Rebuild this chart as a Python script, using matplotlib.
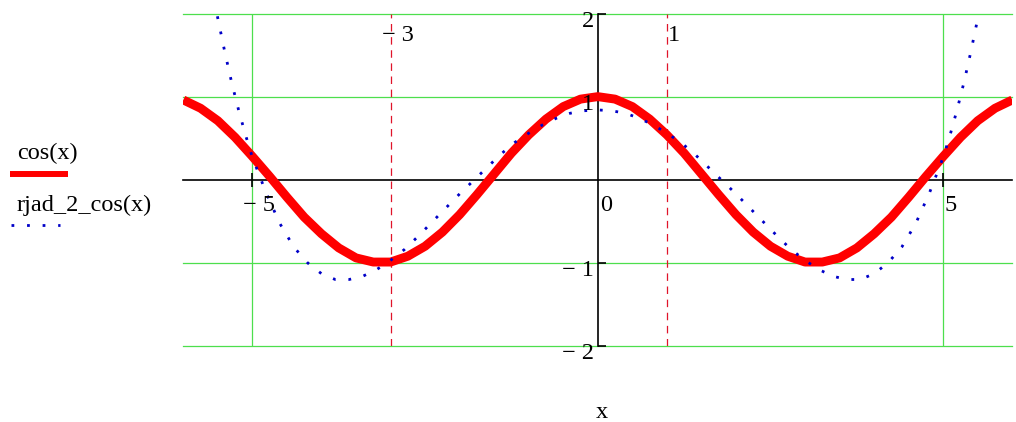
"""
cos(x) against its series approximation rjad_2_cos(x), Mathcad style plot
"""

### Import modules
import numpy as np
import matplotlib
matplotlib.use('Agg')
import matplotlib.pyplot as plt
from matplotlib.lines import Line2D

### Data
x_cos = [-6.0, -5.75, -5.5, -5.25, -5.0, -4.75, -4.5, -4.25, -4.0, -3.75,
         -3.5, -3.25, -3.0, -2.75, -2.5, -2.25, -2.0, -1.75, -1.5, -1.25,
         -1.0, -0.75, -0.5, -0.25, 0.0, 0.25, 0.5, 0.75, 1.0, 1.25, 1.5,
         1.75, 2.0, 2.25, 2.5, 2.75, 3.0, 3.25, 3.5, 3.75, 4.0, 4.25, 4.5,
         4.75, 5.0, 5.25, 5.5, 5.75, 6.0]
y_cos = [0.96, 0.86, 0.71, 0.51, 0.28, 0.04, -0.21, -0.45, -0.65, -0.82,
         -0.94, -0.99, -0.99, -0.92, -0.80, -0.63, -0.42, -0.18, 0.07, 0.32,
         0.54, 0.73, 0.88, 0.97, 1.00, 0.97, 0.88, 0.73, 0.54, 0.32, 0.07,
         -0.18, -0.42, -0.63, -0.80, -0.92, -0.99, -0.99, -0.94, -0.82,
         -0.65, -0.45, -0.21, 0.04, 0.28, 0.51, 0.71, 0.86, 0.96]

x_rjad = [-5.55, -5.5, -5.4, -5.3, -5.2, -5.1, -5.0, -4.8, -4.6, -4.4, -4.2,
          -4.0, -3.8, -3.6, -3.4, -3.2, -3.0, -2.8, -2.6, -2.4, -2.2, -2.0,
          -1.8, -1.6, -1.4, -1.2, -1.0, -0.8, -0.6, -0.4, -0.2, 0.0, 0.2,
          0.4, 0.6, 0.8, 1.0, 1.2, 1.4, 1.6, 1.8, 2.0, 2.2, 2.4, 2.6, 2.8,
          3.0, 3.2, 3.4, 3.6, 3.8, 4.0, 4.2, 4.4, 4.6, 4.8, 5.0, 5.1, 5.2,
          5.3, 5.4, 5.5, 5.55]
y_rjad = [2.15, 1.94, 1.54, 1.17, 0.84, 0.54, 0.27, -0.16, -0.53, -0.81,
          -1.00, -1.13, -1.20, -1.20, -1.16, -1.08, -0.97, -0.84, -0.68,
          -0.51, -0.34, -0.17, -0.01, 0.15, 0.31, 0.45, 0.56, 0.66, 0.74,
          0.80, 0.83, 0.84, 0.83, 0.80, 0.74, 0.66, 0.56, 0.45, 0.31, 0.15,
          -0.01, -0.17, -0.34, -0.51, -0.68, -0.84, -0.97, -1.08, -1.16,
          -1.20, -1.20, -1.13, -1.00, -0.81, -0.53, -0.16, 0.27, 0.54, 0.84,
          1.17, 1.54, 1.94, 2.15]

xticks = [-5, 5]
xticklabels = ['\u2212 5', '5']
yticks = [-2, -1, 1, 2]
yticklabels = ['\u2212 2', '\u2212 1', '1', '2']
markers = [-3, 1]
markerlabels = ['\u2212 3', '1']

### Styles
red = '#ff0000'
blue = '#0000c8'
green = '#4ddf4d'
dashred = '#e0142a'
dotstyle = (0, (1, 4.6))

plt.rcParams['font.family'] = ['Liberation Serif', 'DejaVu Serif']
plt.rcParams['font.size'] = 17.5

W, H = 1016, 422
fig = plt.figure(figsize=(W/100, H/100), dpi=100)
ax = fig.add_axes([183.3/W, 1-346/H, (1012.3-183.3)/W, (346-13.5)/H])
ax.set_xlim(-6, 6)
ax.set_ylim(-2, 2)

### Axes through the origin
for loc in ['top', 'right']:
    ax.spines[loc].set_visible(False)
for loc in ['left', 'bottom']:
    ax.spines[loc].set_position('zero')
    ax.spines[loc].set_linewidth(1.2)
    ax.spines[loc].set_zorder(2)
ax.set_xticks(xticks)
ax.set_yticks(yticks)
ax.tick_params(axis='x', direction='inout', length=10, width=1.2,
               labelbottom=False)
ax.tick_params(axis='y', direction='in', length=6, width=1.2,
               labelleft=False)

### Grid
for yy in yticks:
    ax.axhline(yy, color=green, linewidth=0.9, zorder=1, clip_on=False)
for xx in xticks:
    ax.axvline(xx, color=green, linewidth=0.9, zorder=1)

### Markers
for xm in markers:
    ax.axvline(xm, color=dashred, linewidth=0.9, dashes=(6, 4.5), zorder=1.5)

### Curves
ax.plot(x_cos, y_cos, color=red, linewidth=6.4, solid_capstyle='butt',
        solid_joinstyle='round', zorder=3)
ax.plot(x_rjad, y_rjad, color=blue, linewidth=2.0, linestyle=dotstyle,
        zorder=4)

### Tick labels, Mathcad placement
for xx, lab in zip(xticks, xticklabels):
    ax.annotate(lab, (xx, 0), xytext=(7, -15), textcoords='offset pixels',
                ha='center', va='top', zorder=6)
ax.annotate('0', (0, 0), xytext=(8, -15), textcoords='offset pixels',
            ha='center', va='top', zorder=6)
for yy, lab in zip(yticks, yticklabels):
    ax.annotate(lab, (0, yy), xytext=(-4, 3), textcoords='offset pixels',
                ha='right', va='top', zorder=6, annotation_clip=False)
for xm, lab in zip(markers, markerlabels):
    ax.annotate(lab, (xm, 2), xytext=(7, -11), textcoords='offset pixels',
                ha='center', va='top', zorder=6)

fig.text(602/W, 1-412/H, 'x', ha='center', va='center')

### Legend
fig.text(17/W, 1-153/H, 'cos(x)', ha='left', va='center')
fig.add_artist(Line2D([10/W, 68/W], [1-173.5/H, 1-173.5/H], color=red,
                      linewidth=4.3, solid_capstyle='butt'))
fig.text(17/W, 1-205/H, 'rjad_2_cos(x)', ha='left', va='center')
fig.add_artist(Line2D([11/W, 60/W], [1-225/H, 1-225/H], color=blue,
                      linewidth=2.0, linestyle=dotstyle))

plt.savefig('out.png', dpi=100)
